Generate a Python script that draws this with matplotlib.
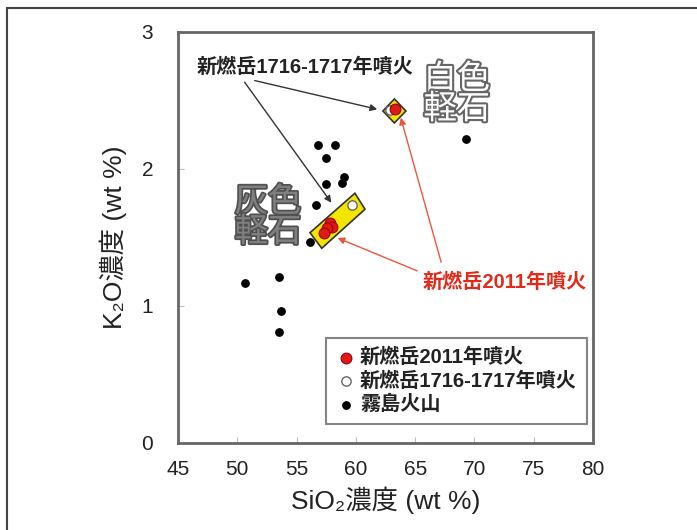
import numpy as np
import matplotlib.pyplot as plt
import matplotlib.patheffects as pe
from matplotlib.patches import Polygon, Rectangle

plt.rcParams['font.family'] = ['Liberation Sans', 'Noto Sans CJK JP', 'DejaVu Sans']

# Kirishima volcanoes (black dots)
kiri_sio2 = [56.8, 58.2, 57.5, 59.0, 58.8, 57.5, 56.6, 56.1, 69.3, 50.65, 53.55, 53.7, 53.55]
kiri_k2o = [2.175, 2.175, 2.08, 1.94, 1.90, 1.89, 1.74, 1.47, 2.22, 1.17, 1.21, 0.96, 0.81]

# Shinmoedake 2011 eruption (red)
erupt2011_sio2 = [57.82, 58.0, 57.54, 57.31, 63.30]
erupt2011_k2o = [1.606, 1.58, 1.569, 1.533, 2.438]

# Shinmoedake 1716-1717 eruption (white)
erupt1716_sio2 = [59.65, 62.88]
erupt1716_k2o = [1.737, 2.43]

# outline regions for grey / white pumice
grey_pumice_sio2 = [59.92, 60.77, 57.12, 56.13]
grey_pumice_k2o = [1.823, 1.706, 1.421, 1.535]
white_pumice_sio2 = [62.28, 63.25, 64.22, 63.25]
white_pumice_k2o = [2.423, 2.511, 2.423, 2.336]

xticks = [45, 50, 55, 60, 65, 70, 75, 80]
yticks = [0, 1, 2, 3]

fig = plt.figure(figsize=(6.97, 5.30), dpi=100)
ax = fig.add_axes([0.2554, 0.1642, 0.5954, 0.7755])

# outer frame of the figure
fig.patches.append(Rectangle((7 / 697, -0.1), 1.2, 1 - 8 / 530 + 0.1, transform=fig.transFigure,
                             fill=False, edgecolor='#444444', linewidth=1.5))

ax.add_patch(Polygon(np.column_stack([grey_pumice_sio2, grey_pumice_k2o]), closed=True,
                     facecolor='#f2e600', edgecolor='#333333', linewidth=1.2, zorder=2))
ax.add_patch(Polygon(np.column_stack([white_pumice_sio2, white_pumice_k2o]), closed=True,
                     facecolor='#f2e600', edgecolor='#333333', linewidth=1.2, zorder=2))

ax.scatter(kiri_sio2, kiri_k2o, s=28, color='black', zorder=3, label='霧島火山')
ax.scatter(erupt1716_sio2, erupt1716_k2o, s=45, facecolor='white', edgecolor='#666666',
           linewidth=1, zorder=4, label='新燃岳1716-1717年噴火')
ax.scatter(erupt2011_sio2, erupt2011_k2o, s=60, facecolor='#e01818', edgecolor='#a00000',
           linewidth=0.8, zorder=5, label='新燃岳2011年噴火')

# annotations
arrow_black = dict(arrowstyle='-|>', color='#333333', lw=1, mutation_scale=10)
arrow_red = dict(arrowstyle='-|>', color='#e8583c', lw=1, mutation_scale=10)
ax.annotate('', xy=(58.07, 1.737), xytext=(50.48, 2.650), arrowprops=arrow_black, zorder=6)
ax.annotate('', xy=(62.03, 2.431), xytext=(51.24, 2.650), arrowprops=arrow_black, zorder=6)
ax.text(46.6, 2.745, '新燃岳1716-1717年噴火', fontsize=14.5, fontweight='bold',
        color='#222222', va='center', ha='left')

ax.annotate('', xy=(58.24, 1.504), xytext=(65.40, 1.248), arrowprops=arrow_red, zorder=6)
ax.annotate('', xy=(63.72, 2.394), xytext=(67.26, 1.299), arrowprops=arrow_red, zorder=6)
ax.text(65.66, 1.175, '新燃岳2011年噴火', fontsize=14.5, fontweight='bold',
        color='#e02a1a', va='center', ha='left')

ax.text(68.52, 2.54, '白色\n軽石', fontsize=24, color='white',
        ha='center', va='center', linespacing=0.95,
        path_effects=[pe.withStroke(linewidth=3, foreground='#666666')])
ax.text(52.59, 1.642, '灰色\n軽石', fontsize=24, color='#808080',
        ha='center', va='center', linespacing=0.95,
        path_effects=[pe.withStroke(linewidth=2.5, foreground='#505050')])

ax.set_xlim(45, 80)
ax.set_ylim(0, 3)
ax.set_xticks(xticks)
ax.set_yticks(yticks)
ax.tick_params(direction='in', length=4, color='#bbbbbb', labelsize=15, labelcolor='#222222')
ax.tick_params(axis='x', pad=12)
ax.tick_params(axis='y', pad=18)
for s in ax.spines.values():
    s.set_color('#666666')
    s.set_linewidth(2)

ax.set_xlabel('SiO₂濃度 (wt %)', fontsize=19, color='#222222', labelpad=6)
ax.set_ylabel('K₂O濃度 (wt %)', fontsize=19, color='#222222', labelpad=10)

handles, labels = ax.get_legend_handles_labels()
leg = ax.legend(handles[::-1], labels[::-1], loc='lower right', bbox_to_anchor=(0.9855, 0.046),
                fontsize=14.5, frameon=True, fancybox=False, handletextpad=0.2,
                handlelength=1, labelspacing=0.2, borderpad=0.5, borderaxespad=0)
leg.get_frame().set_edgecolor('#666666')
leg.get_frame().set_linewidth(1.5)
for t in leg.get_texts():
    t.set_fontweight('bold')
    t.set_color('#222222')

plt.savefig('out.png', dpi=100)
